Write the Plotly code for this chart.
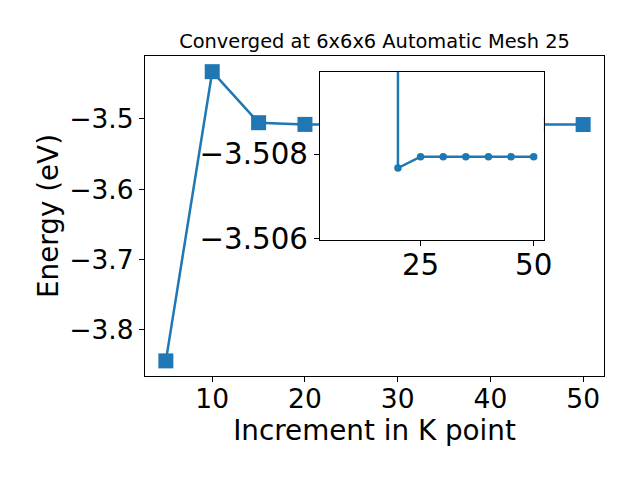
import plotly.graph_objects as go

# main series
kpoints = [5, 10, 15, 20, 25, 30, 35, 40, 45, 50]
energies = [-3.8441, -3.4327, -3.5053, -3.5077, -3.5079, -3.5079, -3.5079, -3.5079, -3.5079, -3.5079]

# inset series (zoomed view; first point lies far off the inset scale)
inset_k = [20, 20, 25, 30, 35, 40, 45, 50]
inset_e = [-3.6000, -3.50767, -3.50794, -3.50794, -3.50794, -3.50794, -3.50794, -3.50794]

main_yticks = [-3.5, -3.6, -3.7, -3.8]
main_xticks = [10, 20, 30, 40, 50]
inset_yticks = [-3.508, -3.506]
inset_xticks = [25, 50]

title_text = "Converged at 6x6x6 Automatic Mesh 25"
xlabel = "Increment in K point"
ylabel = "Energy (eV)"

color = "#1f77b4"
font = "DejaVu Sans"

fig = go.Figure()
fig.add_trace(go.Scatter(x=kpoints, y=energies, mode="lines+markers",
                         line=dict(color=color, width=2.5),
                         marker=dict(symbol="square", size=15, color=color),
                         xaxis="x", yaxis="y", showlegend=False))
fig.add_trace(go.Scatter(x=inset_k, y=inset_e, mode="lines+markers",
                         line=dict(color=color, width=2.5),
                         marker=dict(symbol="circle", size=7.5, color=color),
                         xaxis="x2", yaxis="y2", showlegend=False))

axis_common = dict(showline=True, linecolor="black", linewidth=1.1, mirror=True,
                   ticks="outside", ticklen=5, tickwidth=1.1, tickcolor="black",
                   showgrid=False, zeroline=False)

# page body adds an 8px offset, so positions are shifted by -8
fig.update_layout(
    width=640, height=480,
    margin=dict(l=137, r=44, t=48, b=112),
    paper_bgcolor="white", plot_bgcolor="white",
    font=dict(family=font, color="black"),
    title=dict(text=title_text, x=0.5, xref="paper", xanchor="center",
               y=1 - 33 / 480, yref="container", yanchor="middle",
               font=dict(size=19.4, family=font, color="black")),
    xaxis=dict(domain=[0, 1], range=[2.75, 52.25], tickvals=main_xticks,
               ticklabelstandoff=-6,
               tickfont=dict(size=26.5), title=dict(text=xlabel, font=dict(size=27.8), standoff=3),
               **axis_common),
    yaxis=dict(domain=[0, 1], range=[-3.8656, -3.4104], tickvals=main_yticks,
               tickformat=".1f",
               tickfont=dict(size=26.5), title=dict(text=ylabel, font=dict(size=27.8), standoff=2),
               **axis_common),
    xaxis2=dict(domain=[0.381, 0.869], anchor="y2", range=[2.75, 52.25], tickvals=inset_xticks,
                ticklabelstandoff=-6,
                tickfont=dict(size=29.3), **axis_common),
    yaxis2=dict(domain=[0.425, 0.95], anchor="x2", range=[-3.50597, -3.50994], tickvals=inset_yticks,
                tickformat=".3f",
                tickfont=dict(size=29.3), **axis_common),
)

fig.write_html("out.html")
